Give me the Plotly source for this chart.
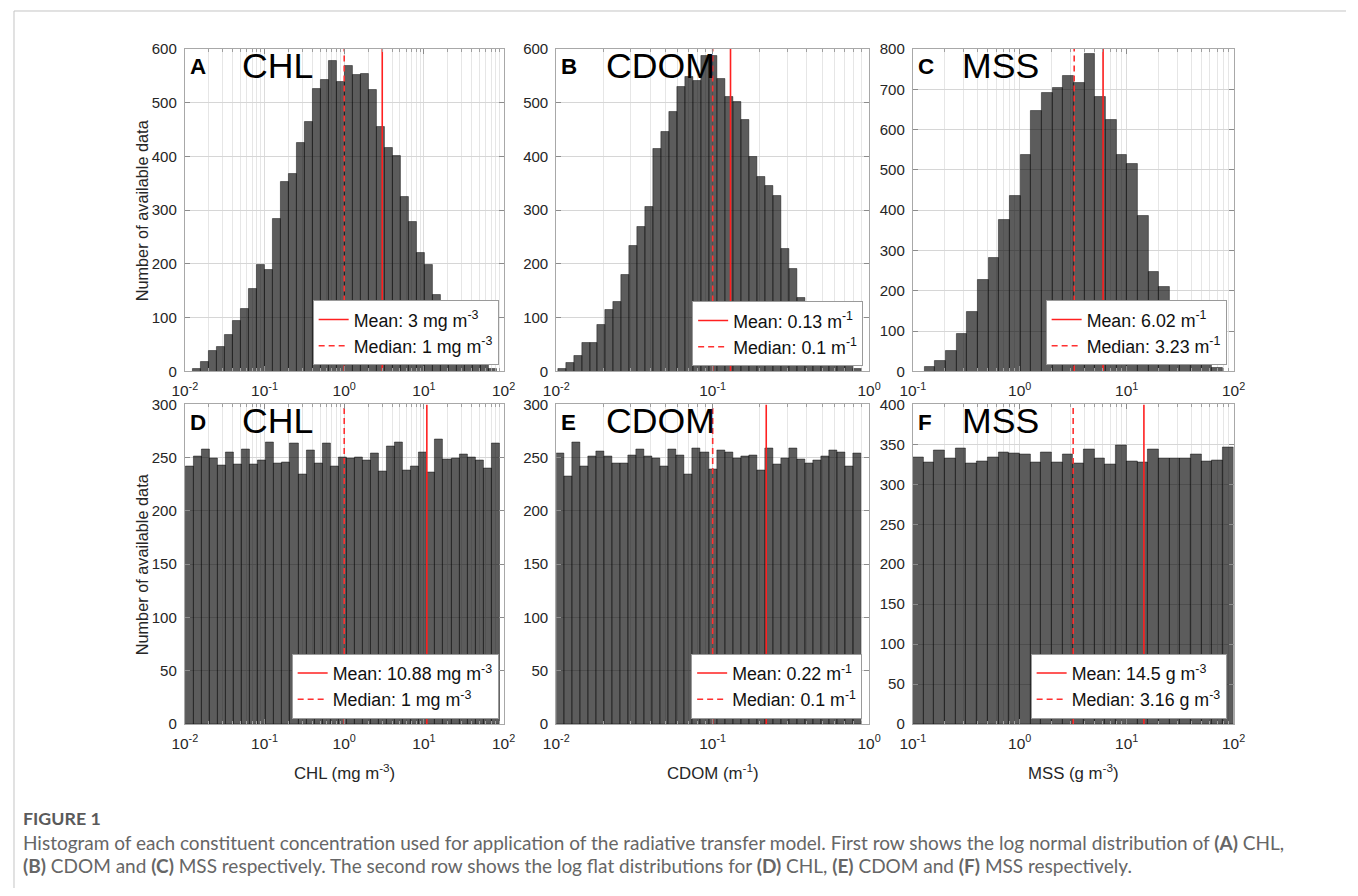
import numpy as np
import plotly.graph_objects as go

W, H = 1358, 896
# The photographed page shows the figure offset by 8 px and slightly shrunk
# (a 1374x912 capture fitted into 1358x896); target positions below are in picture pixels.
OFF, SX, SY = 8, 1358 / 1374, 896 / 912
FS = 1 / SY   # font compensation

# ---------------- data ----------------
# Row 1: log-normal distributions
CHL_LN_COUNTS = [5, 17, 39, 45, 68, 94, 116, 154, 199, 189, 284, 352, 367, 425, 465, 525, 543, 578, 538,
                 568, 551, 553, 524, 454, 416, 401, 325, 279, 221, 198, 143, 132, 112, 88, 62, 40, 20, 5]
CHL_LN_BIN_RANGE = [10 ** -1.90, 10 ** 1.92]        # concentration at first / last bin edge
CHL_LN_MEAN, CHL_LN_MEDIAN = 3.0, 1.0

CDOM_LN_COUNTS = [5, 15, 29, 53, 54, 87, 114, 130, 180, 233, 269, 307, 414, 445, 483, 529, 547, 541, 587,
                  587, 545, 510, 502, 468, 399, 361, 345, 327, 228, 191, 137, 112, 88, 66, 45, 28, 14, 4]
CDOM_LN_BIN_RANGE = [10 ** -1.99, 10 ** -0.05]
CDOM_LN_MEAN, CDOM_LN_MEDIAN = 0.13, 0.1

MSS_LN_COUNTS = [11, 26, 52, 94, 147, 228, 282, 377, 435, 536, 647, 690, 704, 733, 715, 787, 682, 623,
                 536, 516, 385, 248, 210, 150, 100, 62, 32, 10]
MSS_LN_BIN_RANGE = [10 ** -0.89, 10 ** 1.90]
MSS_LN_MEAN, MSS_LN_MEDIAN = 6.02, 3.23

# Row 2: log-flat distributions
CHL_LF_COUNTS = [242, 251, 258, 249, 243, 255, 244, 258, 244, 247, 264, 245, 246, 263, 234, 257, 245, 263,
                 242, 250, 249, 250, 247, 254, 237, 261, 264, 238, 242, 255, 236, 267, 248, 249, 253, 250,
                 247, 240, 263]
CHL_LF_BIN_RANGE = [10 ** -1.99, 10 ** 1.95]
CHL_LF_MEAN, CHL_LF_MEDIAN = 10.88, 1.0

CDOM_LF_COUNTS = [254, 232, 264, 242, 251, 256, 251, 245, 245, 252, 258, 251, 249, 242, 258, 252, 234, 259,
                  255, 239, 257, 255, 249, 251, 252, 238, 259, 244, 249, 259, 248, 245, 247, 251, 257, 255,
                  242, 254]
CDOM_LF_BIN_RANGE = [10 ** -2.0, 10 ** -0.05]
CDOM_LF_MEAN, CDOM_LF_MEDIAN = 0.22, 0.1

MSS_LF_COUNTS = [334, 328, 343, 332, 345, 326, 329, 334, 340, 339, 338, 327, 340, 327, 338, 326, 344, 333,
                 325, 349, 329, 327, 344, 333, 333, 333, 338, 329, 330, 346]
MSS_LF_BIN_RANGE = [10 ** -1.0, 10 ** 2.0]
MSS_LF_MEAN, MSS_LF_MEDIAN = 14.5, 3.16

# axis extents (decades) and count-axis limits
CHL_DECADES, CDOM_DECADES, MSS_DECADES = (-2, 2), (-2, 0), (-1, 2)
YMAX_ROW1 = [600, 600, 800]
YMAX_ROW2 = [300, 300, 400]
YSTEP_ROW1, YSTEP_ROW2 = 100, 50

PANEL_LETTERS = ["A", "B", "C", "D", "E", "F"]
PANEL_NAMES = ["CHL", "CDOM", "MSS", "CHL", "CDOM", "MSS"]
MEAN_LABELS = ["Mean: 3 mg m<sup>-3</sup>", "Mean: 0.13 m<sup>-1</sup>", "Mean: 6.02 m<sup>-1</sup>",
               "Mean: 10.88 mg m<sup>-3</sup>", "Mean: 0.22 m<sup>-1</sup>", "Mean: 14.5 g m<sup>-3</sup>"]
MEDIAN_LABELS = ["Median: 1 mg m<sup>-3</sup>", "Median: 0.1 m<sup>-1</sup>", "Median: 3.23 m<sup>-1</sup>",
                 "Median: 1 mg m<sup>-3</sup>", "Median: 0.1 m<sup>-1</sup>", "Median: 3.16 g m<sup>-3</sup>"]
X_TITLES = ["CHL (mg m<sup>-3</sup>)", "CDOM (m<sup>-1</sup>)", "MSS (g m<sup>-3</sup>)"]
Y_TITLE = "Number of available data"
CAPTION_HEAD = "FIGURE 1"
CAPTION_LINES = [
    "Histogram of each constituent concentration used for application of the radiative transfer model. "
    "First row shows the log normal distribution of <b>(A)</b> CHL,",
    "<b>(B)</b> CDOM and <b>(C)</b> MSS respectively. The second row shows the log flat distributions for "
    "<b>(D)</b> CHL, <b>(E)</b> CDOM and <b>(F)</b> MSS respectively.",
]

# ---------------- layout geometry (picture pixels) ----------------
COLS = [(181, 502), (555, 870), (914, 1237)]
ROWS = [(48, 371), (404, 724)]
LEGEND_BR = [(497, 365), (864, 366), (1230, 365), (497, 719), (863, 719), (1230, 719)]

FONT = "Liberation Sans, Arial, sans-serif"
CAP_FONT = "Lato, Noto Sans, sans-serif"
TXT = "#262626"


def px(x):
    return ((x - OFF) / SX) / W


def py(y):
    return 1 - ((y - OFF) / SY) / H


def fs(size):
    return round(size * FS, 2)


panels = [
    (CHL_LN_COUNTS, CHL_LN_BIN_RANGE, CHL_LN_MEAN, CHL_LN_MEDIAN, CHL_DECADES, YMAX_ROW1[0], YSTEP_ROW1),
    (CDOM_LN_COUNTS, CDOM_LN_BIN_RANGE, CDOM_LN_MEAN, CDOM_LN_MEDIAN, CDOM_DECADES, YMAX_ROW1[1], YSTEP_ROW1),
    (MSS_LN_COUNTS, MSS_LN_BIN_RANGE, MSS_LN_MEAN, MSS_LN_MEDIAN, MSS_DECADES, YMAX_ROW1[2], YSTEP_ROW1),
    (CHL_LF_COUNTS, CHL_LF_BIN_RANGE, CHL_LF_MEAN, CHL_LF_MEDIAN, CHL_DECADES, YMAX_ROW2[0], YSTEP_ROW2),
    (CDOM_LF_COUNTS, CDOM_LF_BIN_RANGE, CDOM_LF_MEAN, CDOM_LF_MEDIAN, CDOM_DECADES, YMAX_ROW2[1], YSTEP_ROW2),
    (MSS_LF_COUNTS, MSS_LF_BIN_RANGE, MSS_LF_MEAN, MSS_LF_MEDIAN, MSS_DECADES, YMAX_ROW2[2], YSTEP_ROW2),
]

fig = go.Figure()
layout = dict(
    width=W, height=H, autosize=False,
    margin=dict(l=0, r=0, t=0, b=0),
    paper_bgcolor="white", plot_bgcolor="white",
    bargap=0, showlegend=True,
    font=dict(family=FONT, color=TXT),
)
annotations = []
shapes = []

for i, (counts, brange, mean_v, med_v, dec, ymax, ystep) in enumerate(panels):
    k = i + 1
    sfx = "" if k == 1 else str(k)
    row, col = divmod(i, 3)
    (xl, xr), (yt, yb) = COLS[col], ROWS[row]

    counts = np.asarray(counts, dtype=float)
    edges = np.linspace(np.log10(brange[0]), np.log10(brange[1]), len(counts) + 1)
    centers = 0.5 * (edges[:-1] + edges[1:])
    widths = np.diff(edges)

    fig.add_trace(go.Bar(
        x=centers, y=counts, width=widths,
        marker=dict(color="rgba(0,0,0,0.64)", line=dict(color="rgba(0,0,0,0.55)", width=0.8)),
        xaxis="x" + sfx, yaxis="y" + sfx, showlegend=False, hoverinfo="skip",
    ))
    leg = "legend" + sfx
    fig.add_trace(go.Scatter(
        x=[np.log10(mean_v)] * 2, y=[0, ymax], mode="lines",
        line=dict(color="#ff2020", width=1.6),
        name=MEAN_LABELS[i], legend=leg, legendgroup=f"m{k}",
        xaxis="x" + sfx, yaxis="y" + sfx,
    ))
    fig.add_trace(go.Scatter(
        x=[np.log10(med_v)] * 2, y=[0, ymax], mode="lines",
        line=dict(color="#ff3030", width=1.6, dash="6px,4px"),
        name=MEDIAN_LABELS[i], legend=leg, legendgroup=f"d{k}",
        xaxis="x" + sfx, yaxis="y" + sfx,
    ))

    majors = list(range(dec[0], dec[1] + 1))
    minors = [n + np.log10(m) for n in range(dec[0], dec[1]) for m in range(2, 10)]
    layout["xaxis" + sfx] = dict(
        domain=[px(xl), px(xr)], anchor="y" + sfx, range=[dec[0], dec[1]],
        tickmode="array", tickvals=majors, ticktext=[f"10<sup>{n}</sup>" for n in majors],
        ticks="inside", ticklen=5, tickcolor="#8c8c8c", ticklabelstandoff=5,
        showline=True, linecolor="#a8a8a8", linewidth=1, mirror="ticks",
        showgrid=True, gridcolor="#dcdcdc", gridwidth=1, zeroline=False,
        tickfont=dict(size=fs(15.2), color=TXT, family=FONT),
        minor=dict(tickmode="array", tickvals=minors, ticks="inside", ticklen=3, tickcolor="#a0a0a0",
                   showgrid=True, gridcolor="#e6e6e6", gridwidth=1),
        fixedrange=True,
    )
    layout["yaxis" + sfx] = dict(
        domain=[py(yb), py(yt)], anchor="x" + sfx, range=[0, ymax],
        tickmode="linear", tick0=0, dtick=ystep,
        ticks="inside", ticklen=5, tickcolor="#8c8c8c", ticklabelstandoff=4,
        showline=True, linecolor="#a8a8a8", linewidth=1, mirror="ticks",
        showgrid=True, gridcolor="#d6d6d6", gridwidth=1, zeroline=False,
        tickfont=dict(size=fs(14.8), color=TXT, family=FONT),
        fixedrange=True,
    )
    lx, lyb = LEGEND_BR[i]
    layout[leg] = dict(
        x=px(lx), y=py(lyb), xanchor="right", yanchor="bottom",
        bgcolor="white", bordercolor="#9a9a9a", borderwidth=1,
        font=dict(size=fs(17.5), color="#111111", family=FONT),
        itemwidth=30, tracegroupgap=4, traceorder="normal",
    )

    # panel letter + constituent name
    annotations.append(dict(
        text=f"<b>{PANEL_LETTERS[i]}</b>", x=px(xl + 3), y=py(yt + 18), xref="paper", yref="paper",
        xanchor="left", yanchor="middle", showarrow=False,
        font=dict(size=fs(22), color="black", family=FONT),
    ))
    annotations.append(dict(
        text=PANEL_NAMES[i], x=px(xl + (56 if col == 0 else 48)), y=py(yt + 17), xref="paper", yref="paper",
        xanchor="left", yanchor="middle", showarrow=False,
        font=dict(size=fs(35), color="black", family=FONT),
    ))

# axis titles
for row, (yt, yb) in enumerate(ROWS):
    annotations.append(dict(
        text=Y_TITLE, x=px(138), y=py((yt + yb) / 2), xref="paper", yref="paper",
        xanchor="center", yanchor="middle", textangle=-90, showarrow=False,
        font=dict(size=fs(16), color=TXT, family=FONT),
    ))
for col, (xl, xr) in enumerate(COLS):
    annotations.append(dict(
        text=X_TITLES[col], x=px((xl + xr) / 2), y=py(772), xref="paper", yref="paper",
        xanchor="center", yanchor="middle", showarrow=False,
        font=dict(size=fs(16.5), color=TXT, family=FONT),
    ))

# caption
annotations.append(dict(
    text=f"<b>{CAPTION_HEAD}</b>", x=px(16), y=py(818), xref="paper", yref="paper",
    xanchor="left", yanchor="middle", showarrow=False,
    font=dict(size=17.8, color="#5a5a5a", family=CAP_FONT),
))
for j, line in enumerate(CAPTION_LINES):
    annotations.append(dict(
        text=line, x=px(16), y=py(843 + 23 * j), xref="paper", yref="paper",
        xanchor="left", yanchor="middle", showarrow=False,
        font=dict(size=19.0, color="#666666", family=CAP_FONT),
    ))

# page frame lines (top and left)
shapes.append(dict(type="line", xref="paper", yref="paper", x0=px(9), x1=1, y0=py(10), y1=py(10),
                   line=dict(color="#c4c4c4", width=1)))
shapes.append(dict(type="line", xref="paper", yref="paper", x0=px(9), x1=px(9), y0=py(10), y1=0,
                   line=dict(color="#c4c4c4", width=1)))

layout["annotations"] = annotations
layout["shapes"] = shapes
fig.update_layout(**layout)
fig.write_html("out.html",
               post_script="document.body.style.margin='0';document.body.style.overflow='hidden';")
